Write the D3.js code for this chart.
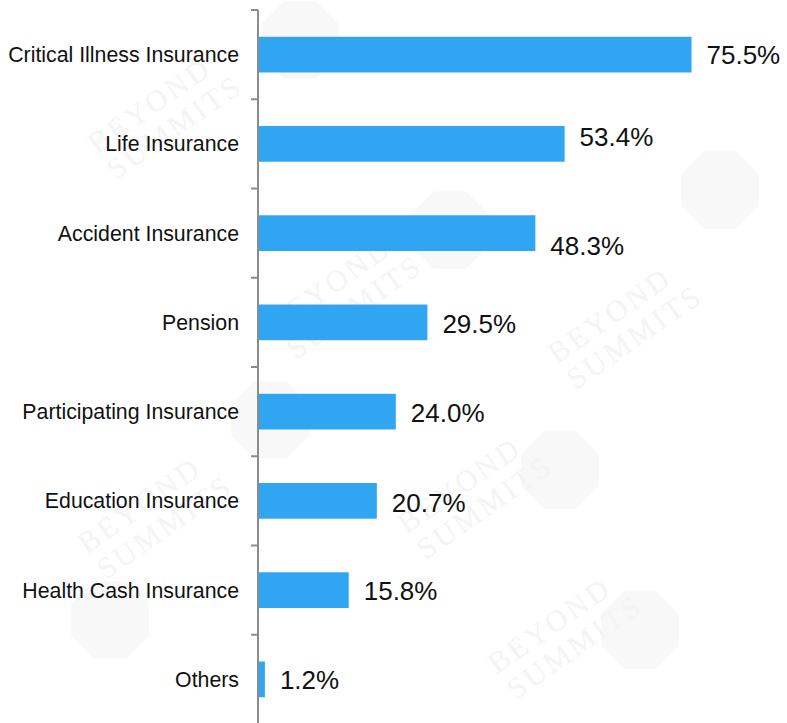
<!DOCTYPE html>
<html>
<head>
<meta charset="utf-8">
<script src="https://cdn.jsdelivr.net/npm/d3@7/dist/d3.min.js"></script>
<style>
  html, body { margin: 0; padding: 0; background: #ffffff; }
  svg { display: block; font-family: "Liberation Sans", Arial, sans-serif; }
</style>
</head>
<body>
<svg id="chart" width="787" height="723"></svg>
<script>
// Share of respondents holding each insurance type (%)
const categories = [
  "Critical Illness Insurance",
  "Life Insurance",
  "Accident Insurance",
  "Pension",
  "Participating Insurance",
  "Education Insurance",
  "Health Cash Insurance",
  "Others"
];
const values = [75.5, 53.4, 48.3, 29.5, 24.0, 20.7, 15.8, 1.2];
const valueLabels = ["75.5%", "53.4%", "48.3%", "29.5%", "24.0%", "20.7%", "15.8%", "1.2%"];

const W = 787, H = 723;
const svg = d3.select("#chart");

// very faint background watermark
const wm = svg.append("g").attr("class", "watermark");
const blobs = [[300, 40], [720, 190], [450, 230], [560, 470], [110, 620], [640, 630], [270, 420]];
blobs.forEach(([x, y]) => {
  const pts = d3.range(8).map(k => {
    const a = Math.PI / 8 + k * Math.PI / 4;
    return [x + 42 * Math.cos(a), y + 42 * Math.sin(a)];
  });
  wm.append("polygon").attr("points", pts.map(p => p.join(",")).join(" "))
    .attr("fill", "#f8f8f8");
});
const tiles = [[160, 120], [620, 330], [340, 300], [150, 520], [470, 500], [560, 640]];
tiles.forEach(([x, y]) => {
  const g = wm.append("g").attr("transform", `translate(${x},${y}) rotate(-35)`);
  g.append("text").attr("x", 0).attr("y", -8).attr("text-anchor", "middle")
    .attr("font-family", "Liberation Serif, serif").attr("font-size", 30)
    .attr("letter-spacing", 3).attr("fill", "#f4f4f4").text("BEYOND");
  g.append("text").attr("x", 8).attr("y", 24).attr("text-anchor", "middle")
    .attr("font-family", "Liberation Serif, serif").attr("font-size", 30)
    .attr("letter-spacing", 3).attr("fill", "#f4f4f4").text("SUMMITS");
});

// scales
const axisX = 258;
const x = d3.scaleLinear().domain([0, 100]).range([axisX, axisX + 574.2]);
const y = d3.scaleBand().domain(categories).range([10, 724]).paddingInner(0.6).paddingOuter(0.3);

// bars
svg.append("g").selectAll("rect")
  .data(values)
  .join("rect")
  .attr("x", x(0))
  .attr("y", (d, i) => y(categories[i]))
  .attr("width", d => x(d) - x(0))
  .attr("height", y.bandwidth())
  .attr("fill", "#30a6f2");

// category axis with ticks at band boundaries
const boundaries = d3.range(categories.length + 1).map(i => 10 + i * (714 / categories.length));
const axisG = svg.append("g");
axisG.append("line")
  .attr("x1", axisX).attr("x2", axisX)
  .attr("y1", 10).attr("y2", H)
  .attr("stroke", "#8c8c8c").attr("stroke-width", 2);
axisG.selectAll("line.tick")
  .data(boundaries)
  .join("line")
  .attr("class", "tick")
  .attr("x1", axisX - 7).attr("x2", axisX)
  .attr("y1", d => d).attr("y2", d => d)
  .attr("stroke", "#8c8c8c").attr("stroke-width", 2);

axisG.selectAll("text.cat")
  .data(categories)
  .join("text")
  .attr("class", "cat")
  .attr("x", axisX - 19)
  .attr("y", d => y(d) + y.bandwidth() / 2)
  .attr("dy", "0.35em")
  .attr("text-anchor", "end")
  .attr("font-size", 21.3)
  .attr("fill", "#111")
  .text(d => d);

// value labels, a few nudged vertically to sit clear of neighbours
const labelShift = [0, -7, 13, 2, 1, 2, 1, 1];
svg.append("g").selectAll("text")
  .data(values)
  .join("text")
  .attr("x", d => x(d) + 15)
  .attr("y", (d, i) => y(categories[i]) + y.bandwidth() / 2 + labelShift[i])
  .attr("dy", "0.35em")
  .attr("font-size", 26)
  .attr("fill", "#111")
  .text((d, i) => valueLabels[i]);
</script>
</body>
</html>
